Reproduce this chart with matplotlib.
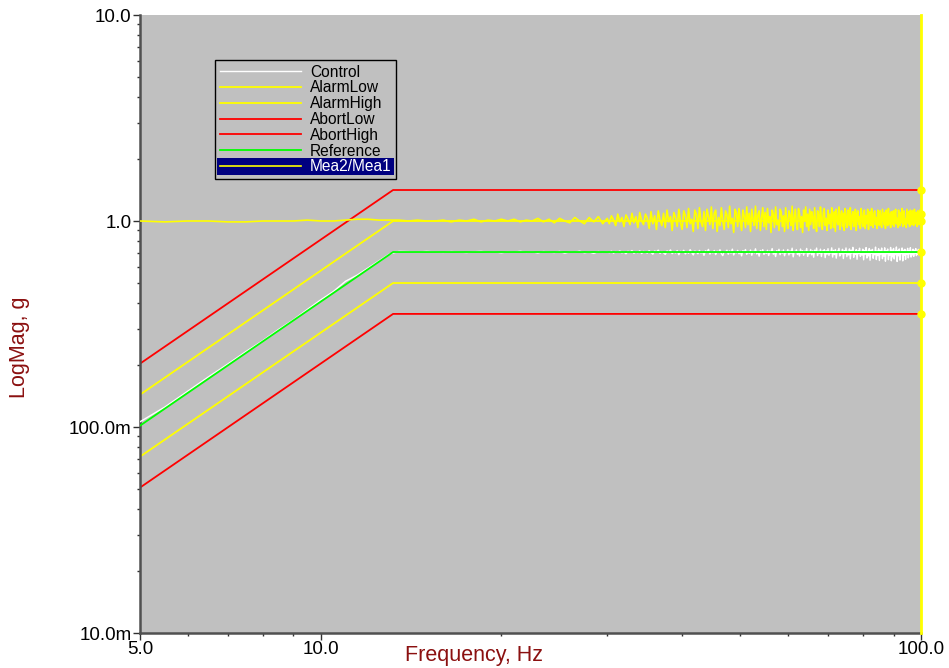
import matplotlib
matplotlib.use("Agg")
import matplotlib.pyplot as plt
from matplotlib.ticker import FixedLocator, NullFormatter, LogLocator
from matplotlib.patches import Rectangle
import numpy as np

plt.rcParams['font.family'] = ['Liberation Sans', 'DejaVu Sans']

# profile breakpoints (Hz) and levels (g)
bp_freq = [5.0, 13.2, 100.0]
reference = [0.1015, 0.707, 0.707]
alarm_high = [0.1435, 1.0, 1.0]
alarm_low = [0.0718, 0.5, 0.5]
abort_high = [0.203, 1.414, 1.414]
abort_low = [0.0508, 0.354, 0.354]

# measured spectra: 0.5 Hz lines 5-29.5 Hz, 0.25 Hz lines 30-100 Hz
freq = np.concatenate([np.arange(5.0, 30.0, 0.5), np.arange(30.0, 100.125, 0.25)])

mea_ratio = [
    # 5.0 - 29.5
    1.00, 0.99, 1.00, 1.00, 0.99, 0.99, 1.00, 1.00, 1.00, 1.01, 1.00, 1.00, 1.01, 1.02, 1.02, 1.01, 1.01,
    1.01, 1.00, 1.01, 1.00, 1.00, 1.01, 0.99, 1.01, 1.00, 1.02, 0.99, 1.01, 1.00, 1.02,
    1.00, 1.02, 0.99, 1.01, 1.00, 1.03, 0.99, 1.02, 0.98, 1.03, 1.00, 0.98, 1.04, 1.00, 0.97, 1.04, 0.99, 1.05, 0.97,
    # 30.0 - 100.0
    1.03, 0.97, 1.06, 1.01, 0.95, 1.08, 0.99, 1.04, 0.94, 1.07, 1.02, 0.96, 1.09, 0.98, 1.05, 0.93, 1.10, 1.00, 0.96, 1.08,
    1.03, 0.92, 1.11, 0.97, 1.06, 0.91, 1.12, 1.01, 0.95, 1.09, 0.93, 1.13, 0.99, 1.05, 0.90, 1.10, 1.04, 0.94, 1.14, 0.98,
    0.91, 1.12, 1.06, 0.93, 1.15, 0.97, 1.02, 0.89, 1.13, 1.08, 0.92, 1.16, 0.99, 0.94, 1.11, 0.90, 1.14, 1.05, 0.96, 1.17,
    0.92, 1.09, 1.13, 0.89, 1.04, 0.95, 1.16, 1.00, 0.91, 1.12, 1.07, 0.93, 1.18, 0.97, 1.03, 0.88, 1.14, 1.10, 0.94, 1.15,
    0.99, 0.90, 1.13, 1.06, 0.93, 1.17, 0.96, 1.09, 0.89, 1.14, 1.02, 0.95, 1.18, 0.92, 1.07, 1.12, 0.90, 1.04, 1.16, 0.94,
    1.10, 0.91, 1.15, 0.98, 1.05, 0.88, 1.13, 1.08, 0.93, 1.17, 0.96, 1.01, 0.90, 1.14, 1.11, 0.94, 1.06, 0.89, 1.16, 1.00,
    0.92, 1.12, 1.07, 0.95, 1.18, 0.90, 1.03, 1.14, 0.97, 0.91, 1.15, 1.09, 0.93, 1.05, 0.88, 1.13, 1.00, 1.17, 0.94, 1.08,
    0.90, 1.14, 0.96, 1.11, 1.04, 0.92, 1.16, 0.98, 0.89, 1.12, 1.07, 0.94, 1.17, 1.01, 0.91, 1.10, 1.15, 0.95, 1.03, 0.90,
    1.13, 0.97, 1.08, 0.92, 1.16, 1.05, 0.93, 1.11, 0.89, 1.14, 1.00, 0.96, 1.17, 0.91, 1.06, 1.12, 0.94, 1.09, 0.90, 1.15,
    1.02, 0.93, 1.13, 1.07, 0.95, 1.16, 0.91, 1.04, 1.11, 0.94, 0.99, 1.14, 0.90, 1.08, 1.12, 0.96, 1.05, 0.92, 1.15, 1.01,
    0.94, 1.10, 1.13, 0.92, 1.06, 0.97, 1.14, 0.91, 1.03, 1.11, 0.95, 1.15, 0.99, 0.93, 1.09, 1.12, 0.96, 1.04, 0.92, 1.13,
    1.07, 0.95, 1.12, 0.98, 0.93, 1.14, 1.05, 0.96, 1.10, 0.92, 1.13, 1.01, 0.95, 1.15, 0.97, 1.08, 0.93, 1.11, 1.04, 0.96,
    1.12, 0.94, 1.09, 1.14, 0.97, 1.03, 0.93, 1.13, 1.06, 0.95, 1.10, 0.98, 1.15, 0.94, 1.07, 1.12, 0.96, 1.02, 0.93, 1.14,
    1.05, 0.97, 1.11, 0.94, 1.13, 1.08, 0.96, 1.12, 1.00, 0.95, 1.14, 1.06, 0.97, 1.10, 0.94, 1.12, 1.09, 0.96, 1.13, 1.04,
    1.08,
]

control = [
    # 5.0 - 29.5
    0.106, 0.125, 0.149, 0.175, 0.202, 0.232, 0.262, 0.297, 0.331, 0.372, 0.414, 0.455, 0.510, 0.546, 0.592, 0.640, 0.690, 0.712,
    0.710, 0.706, 0.712, 0.708, 0.704, 0.711, 0.707, 0.703, 0.709, 0.712, 0.705, 0.708, 0.701, 0.710, 0.706, 0.713,
    0.704, 0.709, 0.700, 0.711, 0.707, 0.703, 0.712, 0.698, 0.709, 0.705, 0.714, 0.701, 0.708, 0.696, 0.711, 0.704,
    # 30.0 - 100.0
    0.709, 0.702, 0.714, 0.698, 0.711, 0.705, 0.716, 0.700, 0.708, 0.693, 0.713, 0.704, 0.719, 0.697, 0.710, 0.702, 0.717, 0.695, 0.712, 0.706,
    0.699, 0.718, 0.704, 0.690, 0.715, 0.707, 0.722, 0.696, 0.711, 0.701, 0.688, 0.716, 0.703, 0.724, 0.694, 0.709, 0.700, 0.719, 0.686, 0.713,
    0.705, 0.721, 0.692, 0.710, 0.697, 0.726, 0.703, 0.684, 0.715, 0.708, 0.693, 0.720, 0.699, 0.712, 0.681, 0.717, 0.706, 0.728, 0.691, 0.709,
    0.700, 0.719, 0.687, 0.714, 0.703, 0.725, 0.695, 0.679, 0.711, 0.706, 0.722, 0.690, 0.716, 0.698, 0.730, 0.684, 0.708, 0.701, 0.720, 0.693,
    0.712, 0.677, 0.718, 0.704, 0.727, 0.689, 0.710, 0.697, 0.723, 0.682, 0.714, 0.700, 0.733, 0.692, 0.707, 0.675, 0.719, 0.703, 0.726, 0.688,
    0.709, 0.696, 0.721, 0.680, 0.715, 0.702, 0.735, 0.690, 0.711, 0.672, 0.718, 0.705, 0.729, 0.686, 0.713, 0.698, 0.724, 0.678, 0.710, 0.701,
    0.727, 0.684, 0.716, 0.695, 0.738, 0.670, 0.712, 0.703, 0.725, 0.688, 0.708, 0.676, 0.731, 0.697, 0.718, 0.682, 0.714, 0.700, 0.736, 0.673,
    0.711, 0.693, 0.728, 0.685, 0.717, 0.667, 0.722, 0.704, 0.739, 0.679, 0.713, 0.696, 0.730, 0.672, 0.716, 0.701, 0.726, 0.664, 0.719, 0.690,
    0.734, 0.681, 0.712, 0.698, 0.741, 0.668, 0.720, 0.687, 0.727, 0.660, 0.715, 0.703, 0.737, 0.676, 0.709, 0.692, 0.729, 0.657, 0.718, 0.695,
    0.740, 0.671, 0.713, 0.684, 0.732, 0.655, 0.721, 0.699, 0.745, 0.666, 0.710, 0.688, 0.726, 0.652, 0.717, 0.694, 0.738, 0.674, 0.712, 0.683,
    0.730, 0.648, 0.719, 0.690, 0.743, 0.661, 0.714, 0.677, 0.735, 0.645, 0.722, 0.697, 0.728, 0.659, 0.711, 0.686, 0.747, 0.650, 0.716, 0.680,
    0.733, 0.643, 0.720, 0.691, 0.739, 0.656, 0.713, 0.675, 0.741, 0.638, 0.718, 0.694, 0.731, 0.649, 0.709, 0.683, 0.744, 0.641, 0.723, 0.670,
    0.736, 0.654, 0.715, 0.687, 0.748, 0.636, 0.719, 0.678, 0.732, 0.646, 0.712, 0.695, 0.740, 0.640, 0.721, 0.681, 0.729, 0.651, 0.714, 0.689,
    0.737, 0.662, 0.718, 0.693, 0.742, 0.668, 0.713, 0.684, 0.730, 0.673, 0.720, 0.698, 0.735, 0.679, 0.711, 0.690, 0.728, 0.685, 0.716, 0.700,
    0.707,
]

y_ticks = [0.01, 0.1, 1.0, 10.0]
y_ticklabels = ['10.0m', '100.0m', '1.0', '10.0']
x_ticks = [5.0, 10.0, 100.0]
x_ticklabels = ['5.0', '10.0', '100.0']

fig = plt.figure(figsize=(9.49, 6.68), dpi=100)
ax = fig.add_axes([140 / 949, 35 / 668, 781 / 949, 618 / 668])
ax.set_facecolor('#c0c0c0')

lw = 1.3
ax.plot(freq, control, color='white', lw=1.0, label='Control', zorder=3)
ax.plot(bp_freq, alarm_low, color='#ffff00', lw=lw, label='AlarmLow', zorder=2)
ax.plot(bp_freq, alarm_high, color='#ffff00', lw=lw, label='AlarmHigh', zorder=2)
ax.plot(bp_freq, abort_low, color='#ff0000', lw=lw, label='AbortLow', zorder=2)
ax.plot(bp_freq, abort_high, color='#ff0000', lw=lw, label='AbortHigh', zorder=2)
ax.plot(bp_freq, reference, color='#00ff00', lw=lw, label='Reference', zorder=3)
ax.plot(freq, mea_ratio, color='#ffff00', lw=1.2, label='Mea2/Mea1', zorder=4)

ax.set_xscale('log')
ax.set_yscale('log')
ax.set_xlim(5.0, 100.0)
ax.set_ylim(0.01, 10.0)

# cursor at 100 Hz with readout dots
ax.axvline(100.0, color='#ffff00', lw=2, zorder=5, clip_on=False)
cursor_vals = [abort_high[-1], mea_ratio[-1], alarm_high[-1], reference[-1], alarm_low[-1], abort_low[-1]]
ax.plot([freq[-1]] * len(cursor_vals), cursor_vals, 'o', color='#ffff00', ms=5, zorder=6, clip_on=False)

ax.xaxis.set_major_locator(FixedLocator(x_ticks))
ax.set_xticklabels(x_ticklabels)
ax.xaxis.set_minor_locator(FixedLocator([6, 7, 8, 9, 20, 30, 40, 50, 60, 70, 80, 90]))
ax.xaxis.set_minor_formatter(NullFormatter())
ax.yaxis.set_major_locator(FixedLocator(y_ticks))
ax.set_yticklabels(y_ticklabels)
ax.yaxis.set_minor_locator(LogLocator(base=10, subs=np.arange(2, 10)))
ax.yaxis.set_minor_formatter(NullFormatter())

for s in ['top', 'right']:
    ax.spines[s].set_visible(False)
for s in ['left', 'bottom']:
    ax.spines[s].set_color('#505050')
    ax.spines[s].set_linewidth(1.8)
ax.tick_params(which='major', length=5, width=1, color='#303030', labelsize=13.5, pad=1)
ax.tick_params(which='minor', length=2.5, width=1, color='#303030')

fig.text(474 / 949, 1 - 655 / 668, 'Frequency, Hz', color='#8b1010', fontsize=15.5,
         ha='center', va='center')
fig.text(20 / 949, 1 - 347 / 668, 'LogMag, g', color='#8b1010', fontsize=15.5,
         ha='center', va='center', rotation=90)

leg = ax.legend(loc='upper left', bbox_to_anchor=((215 - 140) / 781, (633 - 60) / 618),
                borderaxespad=0, fontsize=11.2, frameon=True, fancybox=False,
                facecolor='none', edgecolor='black', framealpha=1,
                handlelength=5.2, handletextpad=0.6, labelspacing=0.05,
                borderpad=0.3)
leg.get_frame().set_linewidth(1.0)
leg.set_zorder(10)
texts = leg.get_texts()
texts[-1].set_color('white')

# highlight the selected trace row, behind the legend entries
fig.canvas.draw()
inv = fig.transFigure.inverted()
lb = leg.get_frame().get_window_extent()
tb = texts[-1].get_window_extent()
(x0, y0) = inv.transform((lb.x0 + 2, tb.y0 - 1))
(x1, y1) = inv.transform((lb.x1 - 2, tb.y1 + 1))
hl = Rectangle((x0, y0), x1 - x0, y1 - y0, transform=fig.transFigure,
               facecolor='#000080', edgecolor='none', zorder=9)
ax.add_patch(hl)

fig.savefig('out.png', dpi=100, facecolor='white')
